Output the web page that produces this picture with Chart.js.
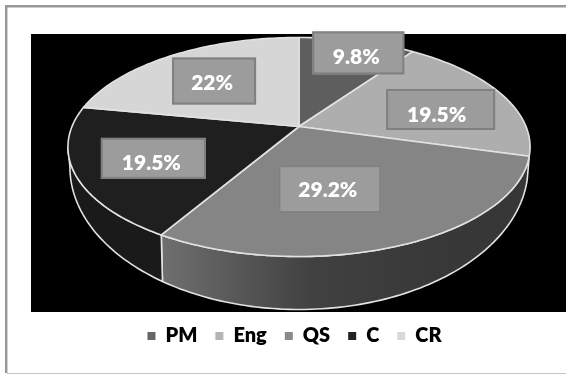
<!DOCTYPE html>
<html>
<head>
<meta charset="utf-8">
<title>Team share</title>
<script src="https://cdn.jsdelivr.net/npm/chart.js@4"></script>
<style>
  html, body { margin: 0; padding: 0; background: #fff; overflow: hidden; }
  canvas { display: block; }
</style>
</head>
<body>
<canvas id="pie" width="566" height="374"></canvas>
<script>
// --- Data ---
const categories = ['PM', 'Eng', 'QS', 'C', 'CR'];
const shares = [9.8, 19.5, 29.2, 19.5, 22];

// --- Look ---
const faceColors = ['#5e5e5e', '#aeaeae', '#858585', '#1f1f1f', '#d6d6d6'];
const legendColors = ['#666666', '#b5b5b5', '#8a8a8a', '#222222', '#d9d9d9'];
const labelFont = '800 21px Lato';

// label tags, relative to a point part way out along each slice
const tagOffsets = [[22, -19], [18, 3.5], [-26, -3], [-15.5, 4.5], [-5, -0.5]];
const tagSizes = [[92, 43], [109, 41], [103, 48], [105, 41], [84, 47]];
const tagTextDrop = [4, 6, 1, 5, 2];
const tagTextShift = [-2, -4, -2, -2, -2];

// --- Fake 3D settings ---
const tilt = 0.187;        // perspective strength
const squash = 0.4656;     // vertical flattening of the disc
const shiftX = 4.5;        // disc centre relative to the chart area centre
const shiftY = -44.5;
const footScaleX = 229 / 231;
const footScaleY = 1.3;

function project(el, angle, t) {
    const u = Math.cos(angle) * t;
    const v = Math.sin(angle) * t;
    const w = 1 - tilt * v;
    return {
        x: el.x + shiftX + el.outerRadius * u / w,
        y: el.y + shiftY + squash * el.outerRadius * v / w
    };
}

// the rim point carried down to the lower edge of the wall
function foot(el, p) {
    const cx = el.x + shiftX;
    const cy = el.y + shiftY;
    return {
        x: cx + (p.x - cx) * footScaleX,
        y: cy + 40 + (p.y - cy - 20) * footScaleY
    };
}

function rimPoints(el, from, to) {
    const pts = [];
    const steps = Math.max(2, Math.ceil((to - from) / 0.02));
    for (let i = 0; i <= steps; i++) {
        pts.push(project(el, from + (to - from) * i / steps, 1));
    }
    return pts;
}

function wallFill(ctx, el, index) {
    if (index !== 2) return '#1a1a1a';
    const g = ctx.createLinearGradient(165, 0, 530, 0);
    g.addColorStop(0, '#6e6e6e');
    g.addColorStop(0.4, '#414141');
    g.addColorStop(0.75, '#383838');
    g.addColorStop(1, '#363636');
    return g;
}

const pie3d = {
    id: 'pie3d',
    beforeDraw(chart) {
        const ctx = chart.ctx;
        ctx.save();
        // black plate behind the disc
        ctx.fillStyle = '#000';
        ctx.fillRect(31, 34, 535, 278);
        // frame
        ctx.strokeStyle = '#999';
        ctx.lineWidth = 2.5;
        ctx.beginPath();
        ctx.moveTo(566, 6.2);
        ctx.lineTo(6.2, 6.2);
        ctx.lineTo(6.2, 373);
        ctx.stroke();
        ctx.strokeStyle = '#c4c4c4';
        ctx.lineWidth = 1;
        ctx.beginPath();
        ctx.moveTo(7, 373.5);
        ctx.lineTo(566, 373.5);
        ctx.stroke();
        ctx.restore();
    },
    beforeDatasetDraw(chart, args) {
        const ctx = chart.ctx;
        const arcs = args.meta.data;
        const nearFrom = Math.asin(tilt);
        const nearTo = Math.PI - nearFrom;

        ctx.save();
        ctx.lineJoin = 'round';

        // side wall, only the part of each slice facing the viewer
        arcs.forEach((el, i) => {
            const norm = a => ((a % (2 * Math.PI)) + 2 * Math.PI) % (2 * Math.PI);
            const start = norm(el.startAngle);
            const end = start + (el.endAngle - el.startAngle);
            const from = Math.max(start, nearFrom);
            const to = Math.min(end, nearTo);
            if (to <= from) return;
            const top = rimPoints(el, from, to);
            const bottom = top.map(p => foot(el, p)).reverse();
            ctx.beginPath();
            top.concat(bottom).forEach((p, k) => k ? ctx.lineTo(p.x, p.y) : ctx.moveTo(p.x, p.y));
            ctx.closePath();
            ctx.fillStyle = wallFill(ctx, el, i);
            ctx.strokeStyle = el.options.borderColor;
            ctx.lineWidth = el.options.borderWidth;
            ctx.fill();
            ctx.stroke();
        });

        // top face
        arcs.forEach(el => {
            const apex = project(el, 0, 0);
            ctx.beginPath();
            ctx.moveTo(apex.x, apex.y);
            rimPoints(el, el.startAngle, el.endAngle).forEach(p => ctx.lineTo(p.x, p.y));
            ctx.closePath();
            ctx.fillStyle = el.options.backgroundColor;
            ctx.strokeStyle = el.options.borderColor;
            ctx.lineWidth = el.options.borderWidth;
            ctx.fill();
            ctx.stroke();
        });

        ctx.restore();
        return false; // the flat arcs are replaced by the drawing above
    },
    afterDatasetsDraw(chart) {
        const ctx = chart.ctx;
        const arcs = chart.getDatasetMeta(0).data;
        ctx.save();
        ctx.textAlign = 'center';
        ctx.textBaseline = 'middle';
        ctx.font = labelFont;
        arcs.forEach((el, i) => {
            const mid = project(el, (el.startAngle + el.endAngle) / 2, 0.6);
            const cx = mid.x + tagOffsets[i][0];
            const cy = mid.y + tagOffsets[i][1];
            const [w, h] = tagSizes[i];
            ctx.fillStyle = '#9c9c9c';
            ctx.strokeStyle = '#808080';
            ctx.lineWidth = 2;
            ctx.fillRect(cx - w / 2, cy - h / 2, w, h);
            ctx.strokeRect(cx - w / 2 + 1, cy - h / 2 + 1, w - 2, h - 2);
            ctx.fillStyle = '#fff';
            ctx.fillText(shares[i] + '%', cx + tagTextShift[i], cy + tagTextDrop[i]);
        });
        ctx.restore();
    }
};

new Chart(document.getElementById('pie'), {
    type: 'pie',
    plugins: [pie3d],
    data: {
        labels: categories,
        datasets: [{
            data: shares,
            backgroundColor: faceColors,
            borderColor: '#e2e2e2',
            borderWidth: 1.6
        }]
    },
    options: {
        responsive: false,
        animation: false,
        radius: 227,
        layout: { padding: { top: 34, left: 23, right: 0, bottom: 18 } },
        plugins: {
            tooltip: { enabled: false },
            legend: {
                position: 'bottom',
                labels: {
                    color: '#000',
                    font: { family: 'Lato', size: 20, weight: '800' },
                    boxWidth: 8,
                    boxHeight: 8,
                    padding: 18,
                    generateLabels(chart) {
                        return categories.map((name, i) => ({
                            text: name,
                            fillStyle: legendColors[i],
                            strokeStyle: legendColors[i],
                            lineWidth: 0,
                            index: i
                        }));
                    }
                }
            }
        }
    }
});
</script>
</body>
</html>
